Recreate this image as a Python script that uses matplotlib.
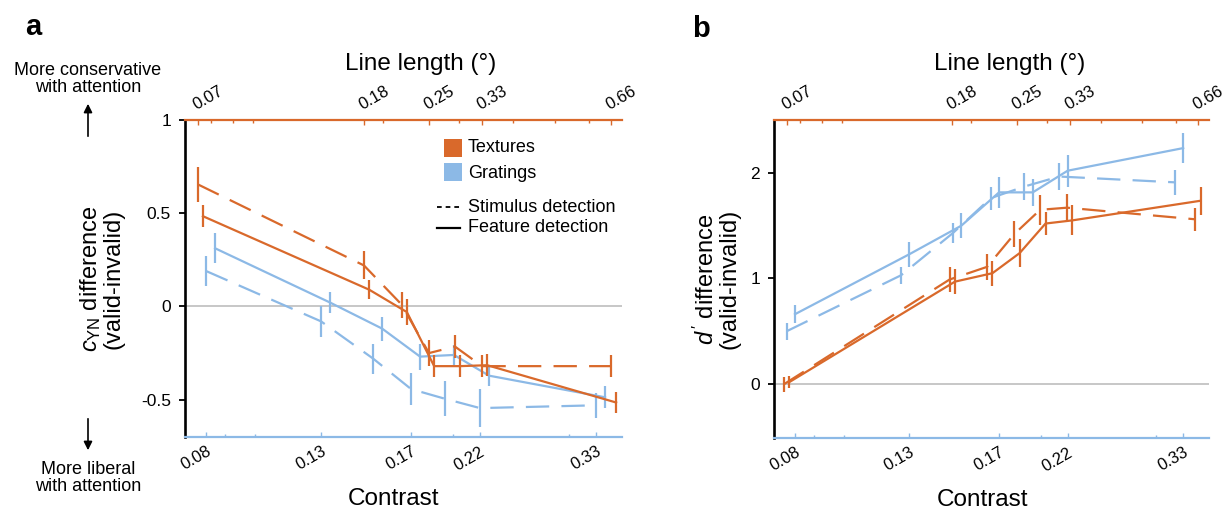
import numpy as np
import matplotlib
matplotlib.use('Agg')
import matplotlib.pyplot as plt
from matplotlib.ticker import FixedLocator, NullFormatter
from matplotlib.patches import Rectangle, FancyArrowPatch
from matplotlib.lines import Line2D

plt.rcParams['font.family'] = ['Liberation Sans', 'DejaVu Sans']
plt.rcParams['mathtext.fontset'] = 'custom'
plt.rcParams['mathtext.rm'] = 'Liberation Sans'
plt.rcParams['mathtext.it'] = 'Liberation Sans:italic'

ORANGE = '#D9692B'
BLUE = '#8CB9E6'
GRAY = '#BDBDBD'

# ---------------- data ----------------
contrast_levels = [0.0843, 0.126, 0.1512, 0.1726, 0.1943, 0.2196, 0.3295]
length_levels = [0.0745, 0.1807, 0.2209, 0.2555, 0.2935, 0.339, 0.674]

contrast_ticks = [0.0843, 0.126, 0.1726, 0.2196, 0.3295]
contrast_labels = ['0.08', '0.13', '0.17', '0.22', '0.33']
contrast_minor = [0.09, 0.1, 0.2, 0.3]
length_ticks = [0.0745, 0.1807, 0.2555, 0.339, 0.674]
length_labels = ['0.07', '0.18', '0.25', '0.33', '0.66']
length_minor = [0.08, 0.09, 0.1, 0.2, 0.3, 0.4, 0.5, 0.6]

# panel a: criterion difference
c_tex_stim = [0.655, 0.22, 0.01, -0.25, -0.215, -0.32, -0.32]
c_tex_stim_err = [0.094, 0.075, 0.07, 0.07, 0.06, 0.058, 0.058]
c_tex_feat = [0.484, 0.09, -0.03, -0.32, -0.32, -0.315, -0.515]
c_tex_feat_err = [0.058, 0.05, 0.07, 0.058, 0.058, 0.058, 0.058]
c_grat_stim = [0.19, -0.08, -0.28, -0.443, -0.495, -0.545, -0.53]
c_grat_stim_err = [0.08, 0.085, 0.08, 0.085, 0.094, 0.1, 0.067]
c_grat_feat = [0.312, 0.021, -0.119, -0.269, -0.26, -0.371, -0.487]
c_grat_feat_err = [0.08, 0.058, 0.064, 0.07, 0.054, 0.058, 0.058]

# panel b: d' difference
d_tex_stim = [0.0, 0.99, 1.11, 1.42, 1.65, 1.67, 1.56]
d_tex_stim_err = [0.07, 0.12, 0.12, 0.126, 0.142, 0.134, 0.11]
d_tex_feat = [0.02, 0.97, 1.05, 1.24, 1.52, 1.55, 1.736]
d_tex_feat_err = [0.06, 0.12, 0.12, 0.134, 0.11, 0.142, 0.134]
d_grat_stim = [0.5, 1.03, 1.43, 1.76, 1.87, 1.965, 1.91]
d_grat_stim_err = [0.08, 0.08, 0.095, 0.11, 0.126, 0.126, 0.118]
d_grat_feat = [0.662, 1.23, 1.50, 1.815, 1.815, 2.02, 2.234]
d_grat_feat_err = [0.087, 0.118, 0.118, 0.15, 0.13, 0.15, 0.142]

# ---------------- figure ----------------
fig = plt.figure(figsize=(12.3, 5.17), dpi=100)
W, H = 1230, 517


def ax_rect(l, r, t, b):
    return [l / W, (H - b) / H, (r - l) / W, (b - t) / H]


axA = fig.add_axes(ax_rect(185, 622, 120, 437))
axB = fig.add_axes(ax_rect(774, 1209, 120, 438))

DASH = (0, (10.5, 5.5))
LW = 1.6


def draw(ax, axt, tex_s, tex_se, tex_f, tex_fe, gr_s, gr_se, gr_f, gr_fe, jit):
    xs = np.array(contrast_levels)
    xl = np.array(length_levels)
    ax.errorbar(xs * jit['gs'], gr_s, yerr=gr_se, color=BLUE, lw=LW, ls=DASH,
                elinewidth=LW, capsize=0, zorder=3)
    ax.errorbar(xs * jit['gf'], gr_f, yerr=gr_fe, color=BLUE, lw=LW, ls='-',
                elinewidth=LW, capsize=0, zorder=3)
    axt.errorbar(xl * jit['ts'], tex_s, yerr=tex_se, color=ORANGE, lw=LW, ls=DASH,
                 elinewidth=LW, capsize=0, zorder=4)
    axt.errorbar(xl * jit['tf'], tex_f, yerr=tex_fe, color=ORANGE, lw=LW, ls='-',
                 elinewidth=LW, capsize=0, zorder=4)


def setup(ax, ylim, yticks, yticklabels, pw, title_dx, contrast_dx):
    axt = ax.twiny()
    ax.set_xscale('log')
    ax.set_xlim(0.0783, 0.3608)
    axt.set_xscale('log')
    axt.set_xlim(0.0696, 0.715)
    ax.set_ylim(*ylim)
    ax.axhline(0, color=GRAY, lw=1.2, zorder=1)

    for s in ['top', 'right']:
        ax.spines[s].set_visible(False)
    ax.spines['left'].set_color('k')
    ax.spines['left'].set_linewidth(1.9)
    ax.spines['bottom'].set_color(BLUE)
    ax.spines['bottom'].set_linewidth(1.6)
    for s in ['left', 'right', 'bottom']:
        axt.spines[s].set_visible(False)
    axt.spines['top'].set_color(ORANGE)
    axt.spines['top'].set_linewidth(1.6)

    ax.set_xticks(contrast_ticks)
    ax.set_xticklabels(contrast_labels, rotation=30, ha='right', va='top',
                       rotation_mode='anchor', fontsize=12)
    ax.xaxis.set_minor_locator(FixedLocator(contrast_minor))
    ax.xaxis.set_minor_formatter(NullFormatter())
    ax.tick_params(axis='x', which='major', direction='in', length=3.5, width=1,
                   color=BLUE, pad=5)
    ax.tick_params(axis='x', which='minor', direction='in', length=2.2, width=1,
                   color=BLUE)

    axt.set_xticks(length_ticks)
    axt.set_xticklabels(length_labels, rotation=30, ha='left', va='bottom',
                        rotation_mode='anchor', fontsize=12)
    axt.xaxis.set_minor_locator(FixedLocator(length_minor))
    axt.xaxis.set_minor_formatter(NullFormatter())
    axt.tick_params(axis='x', which='major', direction='in', length=3.5, width=1,
                    color=ORANGE, pad=5)
    axt.tick_params(axis='x', which='minor', direction='in', length=2.2, width=1,
                    color=ORANGE)

    ax.set_yticks(yticks)
    ax.set_yticklabels(yticklabels, fontsize=12.5)
    ax.tick_params(axis='y', direction='out', length=4, width=1.3, color='k', pad=6)

    ax.text(0.5 + contrast_dx / pw, -(499 - 437) / 317, 'Contrast',
            transform=ax.transAxes, ha='center', va='center', fontsize=17.5)
    ax.text(0.5 + title_dx / pw, (437 - 64) / 317, 'Line length (°)',
            transform=ax.transAxes, ha='center', va='center', fontsize=17.5)
    return axt


axAt = setup(axA, (-0.7, 1.0), [-0.5, 0, 0.5, 1], ['-0.5', '0', '0.5', '1'],
             437, 17, -10)
axBt = setup(axB, (-0.51, 2.5), [0, 1, 2], ['0', '1', '2'], 435, 18, -9)

jitA = {'gs': 1.0, 'gf': np.exp(9 / 286), 'ts': 1.0, 'tf': np.exp(5.2 / 187.6)}
jitB = {'gs': np.exp(-8.5 / 286), 'gf': 1.0, 'ts': np.exp(-2.6 / 187.6), 'tf': np.exp(2.8 / 187.6)}

draw(axA, axAt, c_tex_stim, c_tex_stim_err, c_tex_feat, c_tex_feat_err,
     c_grat_stim, c_grat_stim_err, c_grat_feat, c_grat_feat_err, jitA)
draw(axB, axBt, d_tex_stim, d_tex_stim_err, d_tex_feat, d_tex_feat_err,
     d_grat_stim, d_grat_stim_err, d_grat_feat, d_grat_feat_err, jitB)

# y labels
axA.set_ylabel('$c_{\\mathrm{YN}}$ difference\n(valid-invalid)', fontsize=17,
               linespacing=0.95)
axA.yaxis.set_label_coords((124 - 185) / 437, 0.5)
axB.set_ylabel("$d\\,'$ difference\n(valid-invalid)", fontsize=17,
               linespacing=0.95)
axB.yaxis.set_label_coords((740 - 774) / 435, 0.5)


# legend (panel a)
def fx(px):
    return (px - 185) / 437


def fy(py):
    return (437 - py) / 317


axA.add_patch(Rectangle((fx(444), fy(157)), fx(462) - fx(444), fy(139) - fy(157),
                        transform=axA.transAxes, color=ORANGE, lw=0, zorder=5))
axA.add_patch(Rectangle((fx(444), fy(181)), fx(462) - fx(444), fy(163) - fy(181),
                        transform=axA.transAxes, color=BLUE, lw=0, zorder=5))
axA.text(fx(468), fy(148), 'Textures', transform=axA.transAxes, ha='left',
         va='center', fontsize=13)
axA.text(fx(468), fy(173), 'Gratings', transform=axA.transAxes, ha='left',
         va='center', fontsize=13)
axA.add_line(Line2D([fx(437), fx(460)], [fy(207), fy(207)], transform=axA.transAxes,
                    color='k', lw=1.3, ls=(0, (2.6, 2.2))))
axA.add_line(Line2D([fx(437), fx(460)], [fy(228), fy(228)], transform=axA.transAxes,
                    color='k', lw=1.6))
axA.text(fx(468), fy(207), 'Stimulus detection', transform=axA.transAxes, ha='left',
         va='center', fontsize=13)
axA.text(fx(468), fy(228), 'Feature detection', transform=axA.transAxes, ha='left',
         va='center', fontsize=13)

# annotations
fig.text(88 / W, 1 - 79 / H, 'More conservative\nwith attention', ha='center',
         va='center', fontsize=13, linespacing=1.0)
fig.text(88 / W, 1 - 478 / H, 'More liberal\nwith attention', ha='center',
         va='center', fontsize=13, linespacing=1.0)
fig.add_artist(FancyArrowPatch(
    (88 / W, 1 - 139 / H), (88 / W, 1 - 101 / H), transform=fig.transFigure,
    arrowstyle='-|>,head_length=5,head_width=2.5', color='k', lw=1.2))
fig.add_artist(FancyArrowPatch(
    (88 / W, 1 - 416 / H), (88 / W, 1 - 453 / H), transform=fig.transFigure,
    arrowstyle='-|>,head_length=5,head_width=2.5', color='k', lw=1.2))

fig.text(33 / W, 1 - 27 / H, 'a', ha='center', va='center', fontsize=21,
         fontweight='bold')
fig.text(701 / W, 1 - 29 / H, 'b', ha='center', va='center', fontsize=21,
         fontweight='bold')

fig.savefig('out.png', dpi=100)
